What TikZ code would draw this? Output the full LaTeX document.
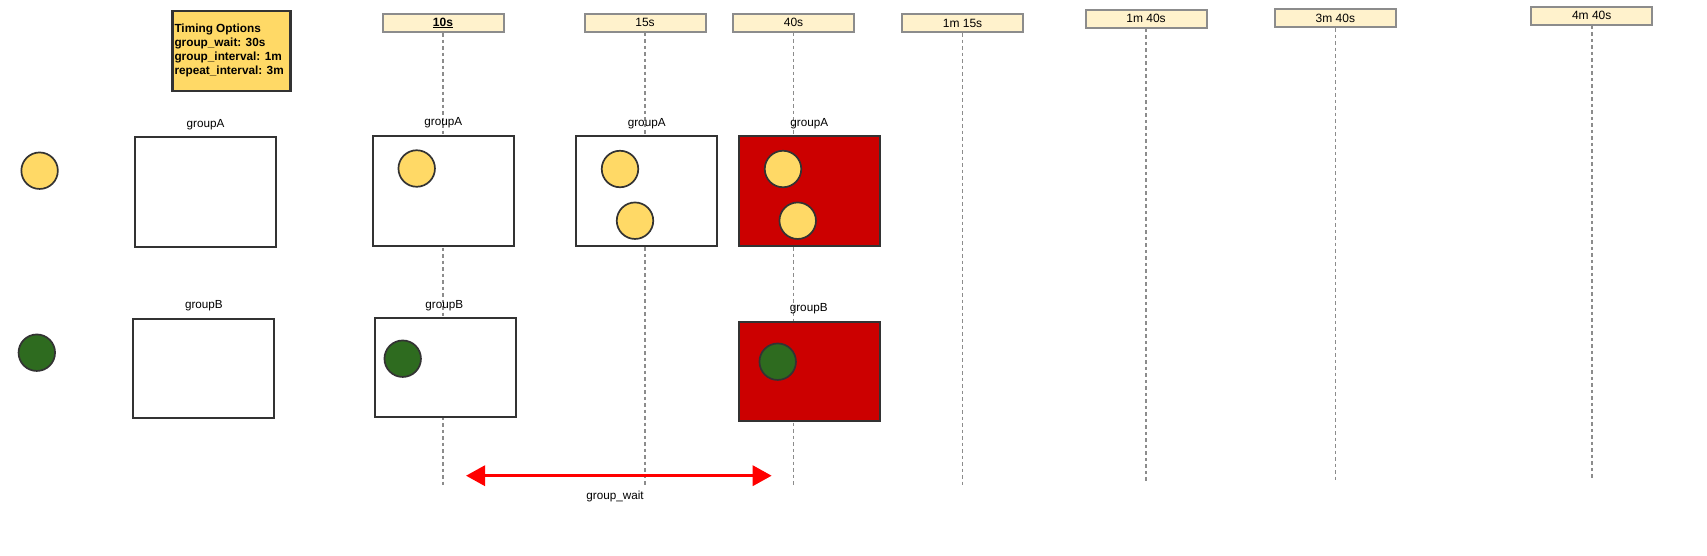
\documentclass[tikz,border=0pt]{standalone}
\usepackage{fontspec}
\setmainfont{Liberation Sans}
\usetikzlibrary{arrows.meta}
\definecolor{optyellow}{HTML}{FFD966}
\definecolor{timefill}{HTML}{FFF2CC}
\definecolor{timegray}{HTML}{8C8C8C}
\definecolor{darkline}{HTML}{333333}
\definecolor{firered}{HTML}{CC0000}
\definecolor{okgreen}{HTML}{2E6B1F}

\begin{document}
\begin{tikzpicture}[x=1pt,y=-1pt,
    timebox/.style={draw=timegray,line width=2pt,fill=timefill,minimum width=121pt,minimum height=18pt,inner sep=0pt,font=\fontsize{12}{14}\selectfont},
    timeline/.style={draw=timegray,line width=1.7pt,dash pattern=on 3.5pt off 3pt},
    groupbox/.style={draw=darkline,line width=2pt,fill=white,minimum width=141pt,inner sep=0pt},
    alert/.style={circle,draw=darkline,line width=1.7pt,minimum size=36.5pt,inner sep=0pt},
    lbl/.style={inner sep=0pt,font=\fontsize{11.7}{13}\selectfont}]
    \useasboundingbox (0,0) rectangle (1707,555);

    % options box
    \node[draw=darkline,line width=2.4pt,fill=optyellow,minimum width=118pt,minimum height=80pt,inner sep=0pt] (opts) at (231.5,50.7) {};
    \node[anchor=west,inner sep=0pt,align=left,font=\bfseries\fontsize{11.8}{14}\selectfont] (optstxt) at ([xshift=3pt]opts.west)
        {Timing Options\\group\_wait: 30s\\group\_interval: 1m\\repeat\_interval: 3m};

    % time marks and their dashed lines
    \foreach \name/\x/\y/\txt/\len in {t10/443/23/{\textbf{\underline{10s}}}/487,
        t15/645/22.5/15s/487, t40/793.5/22.5/40s/487, t75/962.5/23.2/1m 15s/487.7,
        t100/1146/18.8/1m 40s/483.7, t220/1335.4/18/3m 40s/482.7, t280/1591.7/15.8/4m 40s/479}{
        \node[timebox] (\name) at (\x,\y) {\txt};
        \coordinate (\name-end) at (\x,\len);
        \draw[timeline] (\name.south) -- (\name-end);
    }

    % group boxes
    \node[groupbox,minimum height=110pt] (a0) at (205.4,191.7) {};
    \node[groupbox,minimum height=110pt] (a1) at (443.5,190.9) {};
    \node[groupbox,minimum height=110pt] (a2) at (646.3,190.9) {};
    \node[groupbox,minimum height=110pt,fill=firered] (a3) at (809.5,190.9) {};
    \node[groupbox,minimum height=99pt] (b0) at (203.7,368.3) {};
    \node[groupbox,minimum height=99pt] (b1) at (445,367.4) {};
    \node[groupbox,minimum height=99pt,fill=firered] (b3) at (809,371.3) {};

    \node[lbl] (a0l) at (205.6,124.3) {groupA};
    \node[lbl] (a1l) at (443.3,122.7) {groupA};
    \node[lbl] (a2l) at (646.7,123.7) {groupA};
    \node[lbl] (a3l) at (809.3,123.7) {groupA};
    \node[lbl] (b0l) at (203.9,305.7) {groupB};
    \node[lbl] (b1l) at (444.3,305.3) {groupB};
    \node[lbl] (b3l) at (808.7,309) {groupB};

    % alerts
    \node[alert,fill=optyellow] (ya) at (39.6,170.7) {};
    \node[alert,fill=okgreen] (gb) at (36.8,352.7) {};
    \node[alert,fill=optyellow] (a1y) at (416.7,168.5) {};
    \node[alert,fill=optyellow] (a2y) at (620,169) {};
    \node[alert,fill=optyellow] (a2z) at (635,220.7) {};
    \node[alert,fill=optyellow] (a3y) at (783,169) {};
    \node[alert,fill=optyellow] (a3z) at (797.7,220.7) {};
    \node[alert,fill=okgreen] (b1g) at (402.7,358.7) {};
    \node[alert,fill=okgreen] (b3g) at (777.7,361.7) {};

    % group_wait
    \coordinate (waitL) at (466,475.7);
    \coordinate (waitR) at (771.7,475.7);
    \draw[red,line width=3.3pt,{Triangle[length=19pt,width=20pt]}-{Triangle[length=19pt,width=20pt]}] (waitL) -- (waitR);
    \node[lbl] (waitl) at (615,496) {group\_wait};
\end{tikzpicture}
\end{document}
